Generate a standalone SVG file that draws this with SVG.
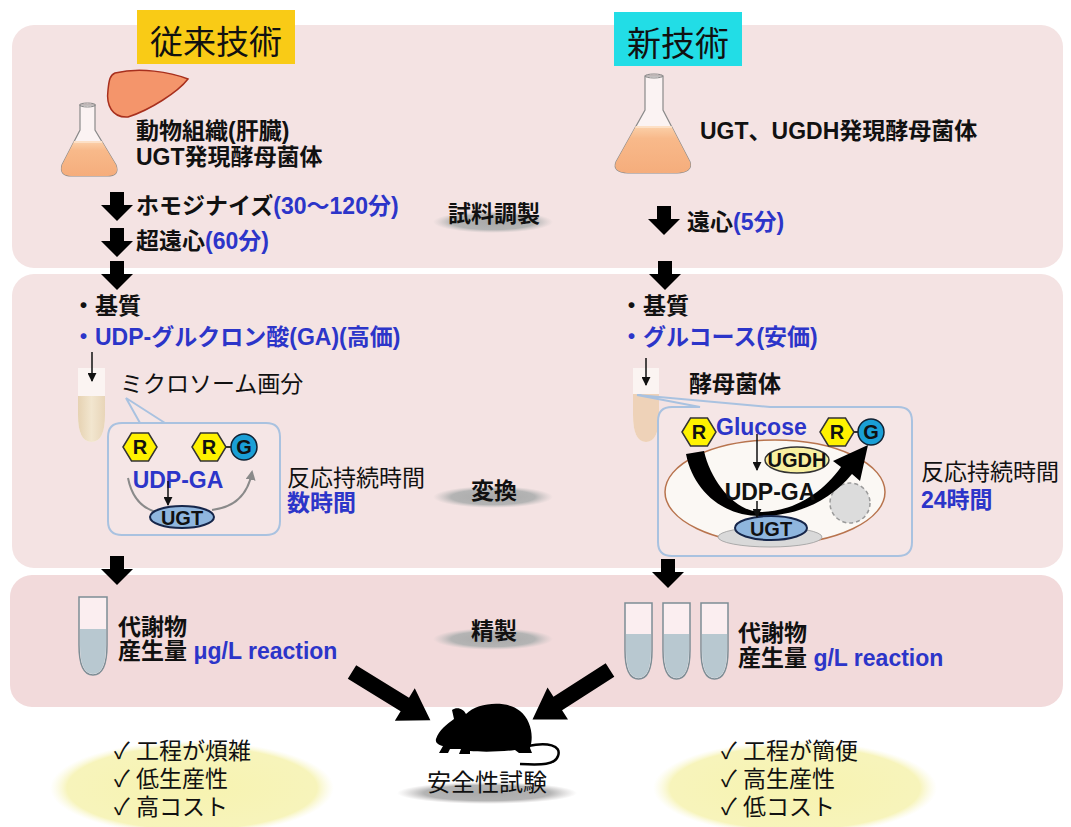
<svg xmlns="http://www.w3.org/2000/svg" width="1071" height="827" viewBox="0 0 1071 827">
<defs>
<style>
  text { font-family: "Liberation Sans", "Noto Sans CJK JP", sans-serif; fill: #111; }
  .b { font-weight: bold; font-size: 23px; }
  .n { font-weight: normal; font-size: 23px; }
  .blue { fill: #2c35c9; }
  .panel { fill: #f4e3e3; }
  .panel3 { fill: #f2dadb; }
  .callout { fill: #f5e6e6; stroke: #a9c2e0; stroke-width: 2; }
  .thin { stroke: #111; stroke-width: 1.5; fill: none; marker-end: url(#ah); }
  .grayarc { stroke: #8a8a8a; stroke-width: 2; fill: none; }
  .hex { fill: #fff200; stroke: #333; stroke-width: 1.5; }
  .gball { fill: #1a9fd6; stroke: #123; stroke-width: 1.5; }
  .ugt { fill: #8fb6de; stroke: #16264a; stroke-width: 2; }
  .tube3 { fill: #fbeef0; stroke: #7d8d95; stroke-width: 1.5; }
  .liq3 { fill: #b8c8d0; }
  .glass { fill: #fbf3f3; stroke: #8a8a8a; stroke-width: 1.2; }
  .mark { font-size: 20px; font-weight: bold; text-anchor: middle; }
</style>
<path id="down" d="M-7,0 H7 V13 H16 L0,29 L-16,13 H-7 Z"/>
<path id="bigarrow" d="M0,-8 H62 V-19 L92,0 L62,19 V8 H0 Z"/>
<polygon id="hex" points="-17,0 -8.5,-14 8.5,-14 17,0 8.5,14 -8.5,14"/>
<marker id="ah" viewBox="0 0 10 10" refX="9" refY="5" markerWidth="6" markerHeight="6" orient="auto">
  <path d="M0,0 L10,5 L0,10 z" fill="#111"/>
</marker>
<marker id="ahg" viewBox="0 0 10 10" refX="8" refY="5" markerWidth="5" markerHeight="5" orient="auto">
  <path d="M0,0 L10,5 L0,10 z" fill="#8a8a8a"/>
</marker>
<radialGradient id="shadow" cx="0.5" cy="0.5" r="0.5">
  <stop offset="0" stop-color="#a9a9a9"/>
  <stop offset="0.7" stop-color="#b4b4b4"/>
  <stop offset="1" stop-color="#c8c4c4" stop-opacity="0"/>
</radialGradient>
<radialGradient id="glow" cx="0.5" cy="0.5" r="0.5">
  <stop offset="0" stop-color="#f7f3b0"/>
  <stop offset="0.88" stop-color="#f7f4bb"/>
  <stop offset="1" stop-color="#faf8d8" stop-opacity="0"/>
</radialGradient>
<linearGradient id="flaskLiq" x1="0" y1="0" x2="0" y2="1">
  <stop offset="0" stop-color="#fbcfa8"/>
  <stop offset="0.25" stop-color="#f8b98a"/>
  <stop offset="1" stop-color="#f5ad7c"/>
</linearGradient>
<linearGradient id="tubeLiq" x1="0" y1="0" x2="1" y2="0">
  <stop offset="0" stop-color="#e6d2b2"/>
  <stop offset="0.5" stop-color="#f2e6cf"/>
  <stop offset="1" stop-color="#e8d5b8"/>
</linearGradient>
</defs>

<!-- background panels -->
<rect width="1071" height="827" fill="#ffffff"/>
<g id="panel-prep"><rect class="panel" x="12" y="25" width="1051" height="243" rx="22"/></g>
<g id="panel-conv"><rect class="panel" x="12" y="274" width="1051" height="294" rx="22"/></g>
<g id="panel-purif"><rect class="panel3" x="10" y="575" width="1053" height="132" rx="22"/></g>

<!-- column headings -->
<g id="head-old">
  <rect x="137" y="10" width="158" height="54" fill="#f9cb16"/>
  <text x="216" y="54" font-size="33" text-anchor="middle">従来技術</text>
</g>
<g id="head-new">
  <rect x="614" y="12" width="128" height="54" fill="#22dde6"/>
  <text x="678" y="56" font-size="34" text-anchor="middle">新技術</text>
</g>

<!-- conventional source -->
<g id="old-source">
  <path d="M115,73 C140,67 170,72 188,79 C178,92 150,110 128,117 C112,118 106,105 108,90 C109,80 110,75 115,73 Z" fill="#f4956b" stroke="#a8301e" stroke-width="1.5"/>
  <path class="glass" d="M80,105 L80,130 L62,165 Q59,176 72,176 L107,176 Q120,176 116,165 L95,130 L95,105 Z"/>
  <path d="M73.8,142 L62,165 Q59,176 72,176 L107,176 Q120,176 116,165 L102.2,142 Z" fill="url(#flaskLiq)"/>
  <path d="M73.8,142 L102.2,142" stroke="#fde0c6" stroke-width="2"/>
  <ellipse cx="87.5" cy="105" rx="8" ry="2" fill="none" stroke="#8a8a8a" stroke-width="1"/>
  <text class="b" x="136" y="139" font-size="22">動物組織(肝臓)</text>
  <text class="b" x="136" y="165" font-size="22">UGT発現酵母菌体</text>
</g>

<!-- new source -->
<g id="new-source">
  <path class="glass" d="M645,76 L645,110 L616,162 Q612,172 628,173 L677,173 Q693,172 690,162 L663,110 L663,76 Z"/>
  <path d="M635.5,127 L616,162 Q612,172 628,173 L677,173 Q693,172 690,162 L671.8,127 Z" fill="url(#flaskLiq)"/>
  <path d="M635.5,127 L671.8,127" stroke="#fde0c6" stroke-width="2"/>
  <ellipse cx="654" cy="76" rx="9" ry="2" fill="none" stroke="#8a8a8a" stroke-width="1"/>
  <text class="b" x="700" y="139">UGT、UGDH発現酵母菌体</text>
</g>

<!-- preparation steps -->
<g id="old-steps">
  <text class="b" x="136" y="214">ホモジナイズ<tspan class="blue">(30〜120分)</tspan></text>
  <text class="b" x="136" y="249">超遠心<tspan class="blue">(60分)</tspan></text>
</g>
<g id="new-steps">
  <text class="b" x="687" y="230">遠心<tspan class="blue">(5分)</tspan></text>
</g>
<g id="stage-prep">
  <ellipse cx="493" cy="222" rx="60" ry="11" fill="url(#shadow)"/>
  <text class="b" x="494" y="222" text-anchor="middle">試料調製</text>
</g>

<!-- conventional conversion -->
<g id="old-substrate">
  <text class="b" x="72" y="314">・基質</text>
  <text class="b blue" x="72" y="345">・UDP-グルクロン酸(GA)(高価)</text>
</g>
<g id="old-tube">
  <path d="M78,368 V415 Q78,442 91.5,442 Q105,442 105,415 V368 Z" fill="#fbf4f2"/>
  <path d="M78,396 V415 Q78,442 91.5,442 Q105,442 105,415 V396 Z" fill="url(#tubeLiq)"/>
  <text class="n" x="120" y="392">ミクロソーム画分</text>
</g>
<g id="old-callout">
  <path class="callout" d="M124,423 H266 Q280,423 280,437 V521 Q280,535 266,535 H122 Q108,535 108,521 V437 Q108,423 122,423 H140 L126,398 L165,423"/>
  <use href="#hex" class="hex" transform="translate(140,447)"/>
  <text class="mark" x="140" y="454">R</text>
  <line x1="225" y1="447" x2="232" y2="447" stroke="#333" stroke-width="2"/>
  <use href="#hex" class="hex" transform="translate(209,447)"/>
  <text class="mark" x="209" y="454">R</text>
  <circle class="gball" cx="244" cy="447" r="13"/>
  <text class="mark" x="244" y="454" fill="#123">G</text>
  <path class="grayarc" d="M128,478 Q134,508 160,513"/>
  <path class="grayarc" d="M212,510 Q246,506 252,472" marker-end="url(#ahg)"/>
  <text class="blue" x="178" y="488" font-size="23" font-weight="bold" text-anchor="middle">UDP-GA</text>
  <ellipse class="ugt" cx="182" cy="517" rx="32" ry="11"/>
  <text x="182" y="525" font-size="20" font-weight="bold" text-anchor="middle" fill="#16264a">UGT</text>
</g>
<g id="old-time">
  <text class="n" x="287" y="486">反応持続時間</text>
  <text class="b blue" x="287" y="511">数時間</text>
</g>
<g id="stage-conv">
  <ellipse cx="493" cy="497" rx="60" ry="11" fill="url(#shadow)"/>
  <text class="b" x="494" y="499" text-anchor="middle">変換</text>
</g>

<!-- new conversion -->
<g id="new-substrate">
  <text class="b" x="620" y="314">・基質</text>
  <text class="b blue" x="620" y="345">・グルコース(安価)</text>
</g>
<g id="new-tube">
  <path d="M633,368 V415 Q633,442 646,442 Q659,442 659,415 V368 Z" fill="#fbf4f2"/>
  <path d="M633,394 V415 Q633,442 646,442 Q659,442 659,415 V394 Z" fill="#eed2b8"/>
  <text class="b" x="689" y="392">酵母菌体</text>
</g>
<g id="new-callout">
  <path class="callout" d="M770,407 H898 Q912,407 912,421 V542 Q912,556 898,556 H672 Q658,556 658,542 V421 Q658,407 672,407 H700 L637,395 Z"/>
  <ellipse cx="775" cy="492" rx="110" ry="52" fill="#fbf8f4" stroke="#b8744e" stroke-width="1.5"/>
  <ellipse cx="770" cy="537" rx="52" ry="10" fill="#d9d9d9" stroke="#aaa" stroke-width="1"/>
  <circle cx="850" cy="503" r="20" fill="#dcdcdc" stroke="#9a9a9a" stroke-width="1.5" stroke-dasharray="4 3"/>
  <ellipse cx="797" cy="460" rx="32" ry="13" fill="#f8f0a0" stroke="#333" stroke-width="1.5"/>
  <text x="797" y="467" font-size="20" font-weight="bold" text-anchor="middle">UGDH</text>
  <path d="M686,454 L704,451 C711,482 735,511 760,512 C792,512 822,494 841,467 L833,461 L868,445 L860,481 L852,474 C828,503 795,516 760,516 C722,516 693,490 686,454 Z" fill="#000"/>
  <text x="770" y="500" font-size="23" font-weight="bold" text-anchor="middle">UDP-GA</text>
  <ellipse class="ugt" cx="771" cy="528" rx="36" ry="12"/>
  <text x="771" y="536" font-size="20" font-weight="bold" text-anchor="middle" fill="#16264a">UGT</text>
  <use href="#hex" class="hex" transform="translate(699,432)"/>
  <text class="mark" x="699" y="439">R</text>
  <text class="blue" x="716" y="435" font-size="23" font-weight="bold">Glucose</text>
  <line x1="853" y1="432" x2="859" y2="432" stroke="#333" stroke-width="2"/>
  <use href="#hex" class="hex" transform="translate(837,432)"/>
  <text class="mark" x="837" y="439">R</text>
  <circle class="gball" cx="871" cy="432" r="13"/>
  <text class="mark" x="871" y="439" fill="#123">G</text>
</g>
<g id="new-time">
  <text class="n" x="921" y="480">反応持続時間</text>
  <text class="b blue" x="921" y="508">24時間</text>
</g>

<!-- purification -->
<g id="old-product">
  <path class="tube3" d="M79,597 V645 Q79,675 93,675 Q107,675 107,645 V597 Z"/>
  <path class="liq3" d="M80,629 V645 Q80,674 93,674 Q106,674 106,645 V629 Z"/>
  <text class="b" x="118" y="635">代謝物</text>
  <text class="b" x="118" y="659">産生量 <tspan class="blue">μg/L reaction</tspan></text>
</g>
<g id="stage-purif">
  <ellipse cx="493" cy="639" rx="60" ry="11" fill="url(#shadow)"/>
  <text class="b" x="494" y="639" text-anchor="middle">精製</text>
</g>
<g id="new-product">
  <path class="tube3" d="M625,603 V650 Q625,679 638.5,679 Q652,679 652,650 V603 Z"/>
  <path class="liq3" d="M626,634 V650 Q626,678 638.5,678 Q651,678 651,650 V634 Z"/>
  <path class="tube3" d="M663,603 V650 Q663,679 676.5,679 Q690,679 690,650 V603 Z"/>
  <path class="liq3" d="M664,634 V650 Q664,678 676.5,678 Q689,678 689,650 V634 Z"/>
  <path class="tube3" d="M701,603 V650 Q701,679 714.5,679 Q728,679 728,650 V603 Z"/>
  <path class="liq3" d="M702,634 V650 Q702,678 714.5,678 Q727,678 727,650 V634 Z"/>
  <text class="b" x="738" y="641">代謝物</text>
  <text class="b" x="738" y="666">産生量 <tspan class="blue">g/L reaction</tspan></text>
</g>

<!-- safety test -->
<g id="safety-test">
  <path d="M436,739 C439,730 447,724 454,719 L452,710 C457,706 464,709 466,714 C478,702 507,700 520,711 C531,720 534,736 530,748 L532,753 L519,753 L515,750 C500,752 480,752 470,751 L470,754 L459,754 L461,749 L450,749 L448,753 L439,753 L443,746 C439,745 435,743 436,739 Z" fill="#000"/>
  <path d="M528,746 C547,742 562,745 558,756 C555,765 542,765 520,764" fill="none" stroke="#000" stroke-width="2.5"/>
  <ellipse cx="487" cy="793" rx="90" ry="11" fill="url(#shadow)"/>
  <text x="487" y="791" font-size="24" text-anchor="middle">安全性試験</text>
</g>

<!-- evaluation summaries -->
<g id="old-summary">
  <ellipse cx="192" cy="788" rx="142" ry="47" fill="url(#glow)"/>
  <text class="n" x="114" y="759">✓ 工程が煩雑</text>
  <text class="n" x="114" y="787">✓ 低生産性</text>
  <text class="n" x="114" y="815">✓ 高コスト</text>
</g>
<g id="new-summary">
  <ellipse cx="795" cy="788" rx="142" ry="47" fill="url(#glow)"/>
  <text class="n" x="721" y="759">✓ 工程が簡便</text>
  <text class="n" x="721" y="787">✓ 高生産性</text>
  <text class="n" x="721" y="815">✓ 低コスト</text>
</g>

<!-- connectors -->
<g id="connectors">
  <use href="#down" transform="translate(117,192)"/>
  <use href="#down" transform="translate(117,228)"/>
  <use href="#down" transform="translate(117,261)"/>
  <use href="#down" transform="translate(117,556)"/>
  <use href="#down" transform="translate(664,206)"/>
  <use href="#down" transform="translate(665,261)"/>
  <use href="#down" transform="translate(668,559)"/>
  <line class="thin" x1="92" y1="352" x2="92" y2="381"/>
  <line class="thin" x1="646" y1="358" x2="646" y2="385"/>
  <line class="thin" x1="168" y1="481" x2="168" y2="505"/>
  <line class="thin" x1="757" y1="434" x2="757" y2="470"/>
  <line class="thin" x1="757" y1="501" x2="757" y2="517"/>
  <use href="#bigarrow" transform="translate(352,672) rotate(31.6)"/>
  <use href="#bigarrow" transform="translate(610,670) rotate(147.4)"/>
</g>
</svg>
